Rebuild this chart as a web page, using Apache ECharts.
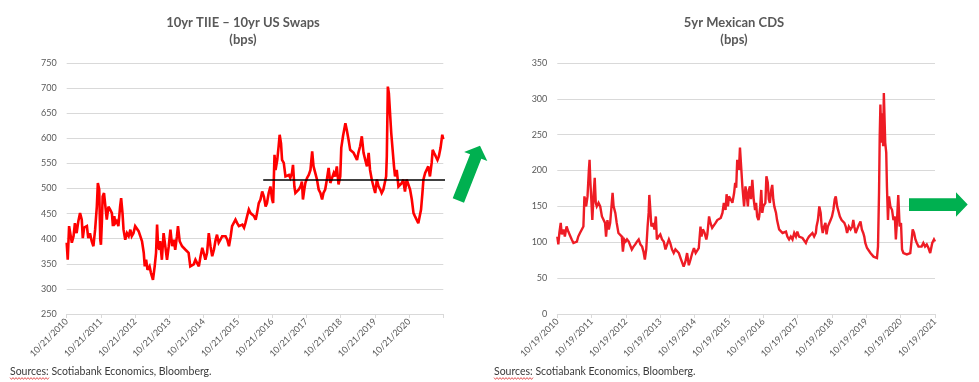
<!DOCTYPE html>
<html><head><meta charset="utf-8">
<script src="https://cdn.jsdelivr.net/npm/echarts/dist/echarts.min.js"></script>
<style>html,body{margin:0;padding:0;background:#fff}#c{width:979px;height:382px}</style>
</head><body><div id="c"></div>
<script>
// x values are years elapsed since the first tick date of each chart
const tiieTicks = ['10/21/2010','10/21/2011','10/21/2012','10/21/2013','10/21/2014','10/21/2015','10/21/2016','10/21/2017','10/21/2018','10/21/2019','10/21/2020'];
const cdsTicks = ['10/19/2010','10/19/2011','10/19/2012','10/19/2013','10/19/2014','10/19/2015','10/19/2016','10/19/2017','10/19/2018','10/19/2019','10/19/2020','10/19/2021'];

const tiiePoints = [
[0,392],[0.03,358],[0.07,425],[0.15,392],[0.20,405],[0.24,431],[0.29,411],[0.34,435],[0.39,451],[0.44,438],
[0.47,401],[0.51,422],[0.59,425],[0.63,401],[0.68,411],[0.73,395],[0.78,385],[0.83,418],[0.88,464],[0.91,511],
[0.95,498],[0.98,398],[1.00,388],[1.03,438],[1.05,484],[1.09,491],[1.14,491],[1.17,438],[1.22,464],[1.27,458],
[1.32,451],[1.35,425],[1.39,445],[1.42,431],[1.46,435],[1.51,425],[1.56,464],[1.59,481],[1.63,451],[1.66,418],
[1.71,398],[1.76,411],[1.81,405],[1.86,418],[1.90,405],[1.95,411],[2.00,425],[2.05,425],[2.10,415],[2.15,405],
[2.20,395],[2.25,372],[2.28,345],[2.32,358],[2.36,338],[2.42,345],[2.46,332],[2.52,318],[2.57,345],[2.61,372],
[2.64,428],[2.67,385],[2.71,378],[2.73,395],[2.78,358],[2.83,411],[2.88,385],[2.93,358],[2.98,385],[3.03,418],
[3.08,385],[3.13,398],[3.17,378],[3.22,405],[3.25,425],[3.30,395],[3.37,385],[3.42,385],[3.47,378],[3.52,378],
[3.56,372],[3.61,345],[3.66,342],[3.71,349],[3.76,358],[3.81,355],[3.86,345],[3.91,365],[3.96,382],[4.00,372],
[4.05,358],[4.10,372],[4.15,411],[4.20,385],[4.25,365],[4.30,378],[4.35,398],[4.39,408],[4.44,392],[4.49,398],
[4.54,405],[4.59,408],[4.64,405],[4.69,398],[4.74,385],[4.79,405],[4.83,425],[4.88,428],[4.93,438],[4.98,431],
[5.03,425],[5.08,425],[5.13,428],[5.18,422],[5.22,431],[5.27,445],[5.32,458],[5.37,451],[5.42,448],[5.47,445],
[5.52,438],[5.56,451],[5.61,471],[5.66,478],[5.71,494],[5.76,484],[5.81,464],[5.85,471],[5.90,491],[5.95,504],
[6.00,478],[6.03,471],[6.07,567],[6.10,537],[6.15,557],[6.19,584],[6.22,607],[6.26,590],[6.29,557],[6.34,551],
[6.39,524],[6.44,521],[6.49,527],[6.53,521],[6.58,531],[6.61,547],[6.65,504],[6.68,491],[6.73,491],[6.78,498],
[6.83,504],[6.87,514],[6.90,478],[6.94,498],[6.97,511],[7.02,521],[7.07,527],[7.12,537],[7.17,574],[7.21,544],
[7.26,531],[7.31,518],[7.36,498],[7.41,491],[7.46,478],[7.50,491],[7.55,498],[7.60,518],[7.65,541],[7.70,511],
[7.75,511],[7.80,531],[7.84,524],[7.89,544],[7.94,508],[7.99,524],[8.02,581],[8.07,604],[8.14,630],[8.18,617],
[8.23,598],[8.28,577],[8.33,577],[8.38,571],[8.43,564],[8.48,557],[8.52,571],[8.57,584],[8.62,604],[8.67,571],
[8.72,557],[8.77,544],[8.82,571],[8.86,537],[8.91,518],[8.96,504],[9.01,491],[9.06,518],[9.11,504],[9.16,498],
[9.20,491],[9.25,498],[9.30,498],[9.33,524],[9.35,564],[9.38,703],[9.41,690],[9.45,644],[9.48,610],[9.52,577],
[9.56,544],[9.59,524],[9.64,537],[9.69,504],[9.74,504],[9.79,511],[9.83,518],[9.88,494],[9.93,518],[9.98,521],
[10.03,498],[10.08,478],[10.13,451],[10.17,445],[10.22,438],[10.27,431],[10.32,428],[10.35,458],[10.39,491],[10.42,518],
[10.47,531],[10.51,531],[10.56,544],[10.61,524],[10.66,551],[10.69,577],[10.73,571],[10.78,571],[10.83,557],[10.87,564],
[10.92,581],[10.97,607],[11.00,598]
];
const tiieAvgValue = 517;
const tiieAvgSpan = [5.74, 11.1];

const cdsPoints = [
[0,108],[0.03,97],[0.06,113],[0.10,127],[0.13,111],[0.18,118],[0.22,108],[0.27,122],[0.32,115],[0.37,113],
[0.42,104],[0.47,99],[0.52,99],[0.57,101],[0.61,108],[0.66,113],[0.71,111],[0.76,122],[0.79,164],[0.84,150],
[0.88,164],[0.92,201],[0.94,215],[0.96,187],[0.99,160],[1.02,131],[1.06,169],[1.09,190],[1.12,155],[1.15,150],
[1.20,155],[1.25,150],[1.30,136],[1.35,136],[1.39,127],[1.42,108],[1.46,131],[1.50,118],[1.54,127],[1.57,145],
[1.61,169],[1.64,150],[1.69,141],[1.73,127],[1.78,113],[1.83,111],[1.88,108],[1.91,87],[1.95,104],[1.99,101],
[2.03,104],[2.08,101],[2.12,99],[2.17,90],[2.22,94],[2.27,97],[2.32,101],[2.37,104],[2.42,97],[2.47,94],
[2.51,87],[2.55,76],[2.59,90],[2.63,122],[2.66,141],[2.68,166],[2.71,145],[2.74,122],[2.79,127],[2.83,118],
[2.87,136],[2.90,104],[2.95,108],[3.00,111],[3.05,104],[3.10,101],[3.15,90],[3.20,97],[3.25,104],[3.29,99],
[3.34,90],[3.39,85],[3.44,90],[3.49,90],[3.54,85],[3.59,78],[3.64,76],[3.68,66],[3.73,73],[3.78,85],
[3.83,68],[3.88,76],[3.93,85],[3.98,92],[4.03,85],[4.07,85],[4.12,92],[4.17,122],[4.20,108],[4.24,118],
[4.29,113],[4.34,104],[4.37,111],[4.42,136],[4.46,127],[4.51,120],[4.56,118],[4.61,127],[4.66,131],[4.71,131],
[4.76,134],[4.81,141],[4.85,155],[4.90,145],[4.93,167],[4.97,150],[5.00,164],[5.05,160],[5.10,155],[5.15,169],
[5.18,183],[5.21,176],[5.24,215],[5.29,201],[5.32,232],[5.36,201],[5.39,178],[5.44,150],[5.48,178],[5.51,169],
[5.55,150],[5.58,173],[5.61,178],[5.64,160],[5.68,187],[5.72,160],[5.76,145],[5.79,155],[5.82,136],[5.86,131],
[5.88,136],[5.91,150],[5.94,173],[5.97,141],[6.00,150],[6.03,150],[6.06,155],[6.09,192],[6.13,183],[6.16,160],
[6.19,155],[6.23,173],[6.26,180],[6.29,160],[6.32,150],[6.37,141],[6.40,131],[6.43,129],[6.46,118],[6.51,118],
[6.56,113],[6.61,111],[6.66,115],[6.70,108],[6.75,104],[6.80,108],[6.85,104],[6.90,113],[6.95,108],[6.99,115],
[7.04,108],[7.09,108],[7.14,106],[7.19,104],[7.24,99],[7.28,104],[7.33,108],[7.38,106],[7.43,113],[7.48,108],
[7.53,113],[7.55,122],[7.59,131],[7.63,150],[7.67,141],[7.70,122],[7.73,113],[7.77,122],[7.81,127],[7.84,111],
[7.88,122],[7.92,124],[7.96,131],[8.00,136],[8.04,145],[8.08,160],[8.11,164],[8.15,150],[8.19,150],[8.23,136],
[8.28,131],[8.33,131],[8.36,127],[8.40,122],[8.44,113],[8.49,122],[8.54,118],[8.59,122],[8.62,131],[8.65,122],
[8.69,113],[8.73,118],[8.78,124],[8.83,129],[8.87,118],[8.91,113],[8.94,108],[8.97,99],[9.02,92],[9.07,90],
[9.12,85],[9.17,83],[9.21,80],[9.26,78],[9.31,78],[9.34,94],[9.37,169],[9.39,248],[9.41,292],[9.44,239],
[9.47,280],[9.49,234],[9.51,308],[9.53,310],[9.55,239],[9.58,225],[9.60,178],[9.63,131],[9.66,164],[9.70,150],
[9.75,145],[9.79,131],[9.83,136],[9.86,104],[9.89,127],[9.93,166],[9.97,122],[10.01,127],[10.04,90],[10.08,85],
[10.13,85],[10.18,83],[10.23,85],[10.28,85],[10.31,99],[10.35,118],[10.39,113],[10.43,104],[10.47,99],[10.52,94],
[10.57,94],[10.61,94],[10.66,99],[10.71,94],[10.76,97],[10.81,92],[10.86,85],[10.88,83],[10.92,99],[10.97,104],
[11.00,101]
];

const titles = [['10yr TIIE \u2013 10yr US Swaps', '(bps)'], ['5yr Mexican CDS', '(bps)']];
const sourceText = 'Sources: Scotiabank Economics, Bloomberg.';

const FONT = 'Lato, "Open Sans", sans-serif';
const labelColor = '#595959';
const gridColor = '#d9d9d9';

function xAxisCfg(gridIndex, ticks) {
  return {
    type: 'value', gridIndex, min: 0, max: 11, interval: 1,
    axisLine: { show: true, lineStyle: { color: gridColor, width: 1 } },
    axisTick: { show: true, length: 4, lineStyle: { color: gridColor } },
    splitLine: { show: false },
    axisLabel: {
      rotate: 45, margin: 6, fontSize: 9, color: labelColor, fontFamily: FONT,
      showMinLabel: true, showMaxLabel: true,
      formatter: v => ticks[Math.round(v)] || ''
    }
  };
}
function yAxisCfg(gridIndex, min, max) {
  return {
    type: 'value', gridIndex, min, max, interval: 50,
    axisLine: { show: false }, axisTick: { show: false },
    splitLine: { show: true, lineStyle: { color: gridColor, width: 1 } },
    axisLabel: { fontSize: 9, color: labelColor, fontFamily: FONT, margin: 10 }
  };
}

function zigzag(x0, x1, y) {
  const pts = [];
  let up = true;
  for (let x = x0; x <= x1; x += 1.5) { pts.push([x, y + (up ? -0.9 : 0.9)]); up = !up; }
  return pts;
}

const green = '#00b050';
const titleFont = 'bold 13px ' + FONT;
const graphics = [
  { type: 'text', x: 243, y: 23, style: { text: titles[0][0], font: titleFont, fill: labelColor, align: 'center', verticalAlign: 'middle' } },
  { type: 'text', x: 243, y: 40, style: { text: titles[0][1], font: titleFont, fill: labelColor, align: 'center', verticalAlign: 'middle' } },
  { type: 'text', x: 734, y: 23, style: { text: titles[1][0], font: titleFont, fill: labelColor, align: 'center', verticalAlign: 'middle' } },
  { type: 'text', x: 734, y: 40, style: { text: titles[1][1], font: titleFont, fill: labelColor, align: 'center', verticalAlign: 'middle' } },
  { type: 'text', x: 10, y: 372, style: { text: sourceText, font: '10.5px ' + FONT, fill: '#3a3a3a', align: 'left', verticalAlign: 'middle' } },
  { type: 'text', x: 494, y: 372, style: { text: sourceText, font: '10.5px ' + FONT, fill: '#3a3a3a', align: 'left', verticalAlign: 'middle' } },
  { type: 'polyline', shape: { points: zigzag(10, 49, 378.5) }, style: { stroke: '#e03030', lineWidth: 0.8, fill: null } },
  { type: 'polyline', shape: { points: zigzag(494, 533, 378.5) }, style: { stroke: '#e03030', lineWidth: 0.8, fill: null } },
  { type: 'polygon', shape: { points: [[452.7,198.3],[470.1,154.3],[464.1,151.9],[480,145.7],[487.3,161.1],[481.3,158.7],[464,202.7]] }, style: { fill: green } },
  { type: 'polygon', shape: { points: [[909,198.3],[956,198.3],[956,192.3],[967.7,204.5],[956,216.7],[956,211],[909,211]] }, style: { fill: green } }
];
graphics.forEach(g => { g.z = 100; });

const chart = echarts.init(document.getElementById('c'), null, { renderer: 'canvas' });
chart.setOption({
  animation: false,
  backgroundColor: '#ffffff',
  grid: [
    { left: 66.7, top: 63, width: 376.6, height: 251, containLabel: false },
    { left: 557.3, top: 63, width: 377.7, height: 251, containLabel: false }
  ],
  xAxis: [xAxisCfg(0, tiieTicks), xAxisCfg(1, cdsTicks)],
  yAxis: [yAxisCfg(0, 250, 750), yAxisCfg(1, 0, 350)],
  series: [
    { type: 'line', xAxisIndex: 0, yAxisIndex: 0, data: tiiePoints, showSymbol: false, symbol: 'none',
      lineStyle: { color: '#ff0000', width: 2.6, join: 'miter', miterLimit: 3 }, z: 3 },
    { type: 'line', xAxisIndex: 0, yAxisIndex: 0, clip: false, showSymbol: false, symbol: 'none',
      data: [[tiieAvgSpan[0], tiieAvgValue], [tiieAvgSpan[1], tiieAvgValue]],
      lineStyle: { color: '#000000', width: 1.5 }, z: 4 },
    { type: 'line', xAxisIndex: 1, yAxisIndex: 1, data: cdsPoints, showSymbol: false, symbol: 'none',
      lineStyle: { color: '#ee1c25', width: 2.4, join: 'miter', miterLimit: 3 }, z: 3 }
  ],
  graphic: graphics
});
</script>
</body></html>
